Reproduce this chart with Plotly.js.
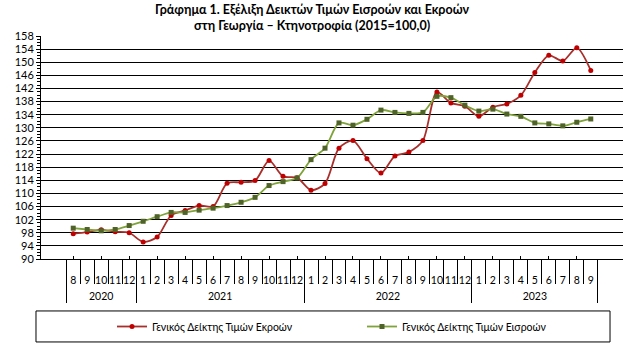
<!DOCTYPE html>
<html><head><meta charset="utf-8">
<script src="https://cdn.plot.ly/plotly-3.0.1.min.js"></script>
<style>html,body{margin:0;padding:0;background:#fff}</style>
</head><body><div id="chart" style="width:644px;height:351px"></div>
<script>
// 2020 month labels carry a zero-width space so the multicategory axis keeps chronological order;
// each month label has an empty second line so the year row sits lower, as in the original
const yearCats = ['2020','2020','2020','2020','2020',
  '2021','2021','2021','2021','2021','2021','2021','2021','2021','2021','2021','2021',
  '2022','2022','2022','2022','2022','2022','2022','2022','2022','2022','2022','2022',
  '2023','2023','2023','2023','2023','2023','2023','2023','2023'];
const monthCats = ['8\u200B','9\u200B','10\u200B','11\u200B','12\u200B',
  '1','2','3','4','5','6','7','8','9','10','11','12',
  '1','2','3','4','5','6','7','8','9','10','11','12',
  '1','2','3','4','5','6','7','8','9'];
const outputIndex = [97.7, 98.2, 98.9, 98.3, 98.0,
  95.2, 96.7, 103.3, 104.8, 106.3, 106.0, 113.1, 113.4, 113.9, 120.0, 115.2, 114.8,
  111.0, 113.0, 123.8, 126.1, 120.6, 116.2, 121.4, 122.6, 126.1, 140.9, 137.6, 136.6,
  133.5, 136.3, 137.3, 139.9, 146.9, 152.1, 150.4, 154.4, 147.5];
const inputIndex = [99.4, 99.0, 98.6, 99.0, 100.2,
  101.5, 102.9, 104.2, 104.2, 104.9, 105.5, 106.3, 107.3, 108.8, 112.4, 113.6, 114.7,
  120.3, 123.8, 131.5, 130.8, 132.6, 135.4, 134.7, 134.4, 134.7, 139.6, 139.2, 136.9,
  135.1, 135.7, 134.2, 133.5, 131.5, 131.2, 130.6, 131.7, 132.7];
const seriesNames = ['Γενικός Δείκτης Τιμών Εκροών', 'Γενικός Δείκτης Τιμών Εισροών'];

const monthLabels = monthCats.map(m => m + '<br>\u00A0');
const FONT = 'Lato, "Open Sans", sans-serif';
const traces = [
  {x:[yearCats, monthLabels], y: outputIndex, name: seriesNames[0], type:'scatter', mode:'lines+markers',
   line:{color:'#A8302C', width:1.8, shape:'spline', smoothing:0.8},
   marker:{color:'#C00000', size:5, symbol:'circle'}},
  {x:[yearCats, monthLabels], y: inputIndex, name: seriesNames[1], type:'scatter', mode:'lines+markers',
   xaxis:'x2',
   line:{color:'#7FA33A', width:1.8, shape:'spline', smoothing:0.8},
   marker:{color:'#4F6228', size:5, symbol:'square'}}
];
const layout = {
  width:644, height:351,
  margin:{l:41, r:21, t:36, b:92},
  paper_bgcolor:'#fff', plot_bgcolor:'#fff',
  font:{family:FONT, size:10, color:'#000'},
  title:{text:'Γράφημα 1. Εξέλιξη Δεικτών Τιμών Εισροών και Εκροών<br>στη Γεωργία – Κτηνοτροφία (2015=100,0)',
    font:{family:FONT, size:12.5, weight:'bold', color:'#000'}, x:0.4845, xref:'container', xanchor:'center',
    y:0.9596, yref:'container', yanchor:'middle'},
  xaxis:{type:'multicategory', automargin:false, showline:true, linecolor:'#000', linewidth:1, tickangle:0,
    ticks:'outside', ticklen:24, tickcolor:'#000', tickwidth:1, ticklabelstandoff:11,
    showdividers:true, dividercolor:'#000', dividerwidth:1,
    tickfont:{family:FONT, size:10.5, color:'#000'}, showgrid:false, zeroline:false},
  xaxis2:{type:'multicategory', overlaying:'x', matches:'x', automargin:false, showline:false,
    ticks:'inside', tickson:'labels', ticklen:3, tickcolor:'#000', tickwidth:1,
    showticklabels:false, showdividers:false, showgrid:false, zeroline:false},
  yaxis:{range:[90,158], dtick:4, tick0:90, automargin:false, showline:true, linecolor:'#000', linewidth:1,
    ticks:'outside', ticklen:4, tickcolor:'#000', showgrid:true, gridcolor:'#000', gridwidth:1,
    minor:{dtick:1, ticks:'outside', ticklen:3, tickcolor:'#000', showgrid:false},
    tickfont:{family:FONT, size:11, color:'#000'}, zeroline:false},
  showlegend:true,
  legend:{orientation:'h', x:0.122, xanchor:'left', yref:'container', y:0.0698, yanchor:'middle',
    entrywidth:205, entrywidthmode:'pixels',
    font:{family:FONT, size:10.5, color:'#000'}, bgcolor:'rgba(0,0,0,0)', borderwidth:0},
  shapes:[{type:'rect', xref:'paper', yref:'paper', x0:-0.0086, x1:0.9777, y0:-0.233, y1:-0.372,
    line:{color:'#000', width:1}, fillcolor:'rgba(0,0,0,0)'}]
};
Plotly.newPlot('chart', traces, layout, {displayModeBar:false, staticPlot:true});
</script></body></html>
